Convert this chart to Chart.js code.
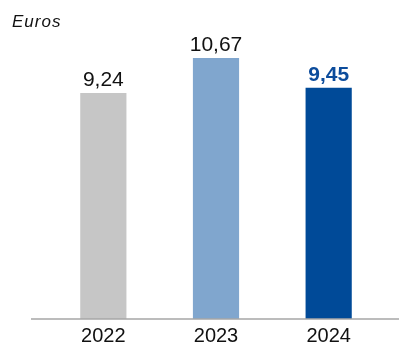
<!DOCTYPE html>
<html>
<head>
<meta charset="utf-8">
<script src="https://cdn.jsdelivr.net/npm/chart.js@4"></script>
<style>
  html, body { margin: 0; padding: 0; background: #fff; }
  #wrap { position: relative; width: 399px; height: 345px; }
  #unit { position: absolute; left: 12px; top: 12px; font: italic 17px "Liberation Sans", Arial, sans-serif; letter-spacing: 1px; color: #111; }
</style>
</head>
<body>
<div id="wrap">
  <div id="unit">Euros</div>
  <canvas id="myChart" width="399" height="345"></canvas>
</div>
<script>
const years = ['2022', '2023', '2024']
const values = [9.24, 10.67, 9.45]
const valueLabels = ['9,24', '10,67', '9,45']
const barColors = ['#c6c6c6', '#80a6ce', '#004a98']
const labelColors = ['#111111', '#111111', '#0c4c9c']
const labelBold = [false, false, true]

// value above each bar + baseline that runs past the plot area
const barLabels = {
	id: 'barLabels',
	afterDatasetsDraw(chart) {
		const ctx = chart.ctx
		const meta = chart.getDatasetMeta(0)
		ctx.save()
		ctx.textAlign = 'center'
		ctx.textBaseline = 'alphabetic'
		meta.data.forEach(function (bar, i) {
			ctx.font = (labelBold[i] ? 'bold ' : '') + '21px "Liberation Sans", Arial, sans-serif'
			ctx.fillStyle = labelColors[i]
			ctx.fillText(valueLabels[i], bar.x, bar.y - 7)
		})
		const y0 = chart.scales.y.getPixelForValue(0)
		ctx.strokeStyle = '#a6a6a6'
		ctx.lineWidth = 1.5
		ctx.beginPath()
		ctx.moveTo(31, y0)
		ctx.lineTo(399, y0)
		ctx.stroke()
		ctx.restore()
	}
}

new Chart(document.getElementById('myChart'), {
	type: 'bar',
	data: {
		labels: years,
		datasets: [{
			data: values,
			backgroundColor: barColors,
			barPercentage: 0.82,
			categoryPercentage: 0.5
		}]
	},
	options: {
		responsive: false,
		animation: false,
		layout: { padding: { left: 47, right: 14, top: 25.5, bottom: 0 } },
		plugins: { legend: { display: false }, tooltip: { enabled: false } },
		scales: {
			x: {
				grid: { display: false, drawTicks: false },
				border: { display: false },
				ticks: {
					padding: 5,
					color: '#111',
					font: { family: '"Liberation Sans", Arial, sans-serif', size: 20 }
				},
				afterFit(scale) { scale.height = 26 }
			},
			y: {
				display: false,
				min: 0,
				max: 12
			}
		}
	},
	plugins: [barLabels]
})
</script>
</body>
</html>
